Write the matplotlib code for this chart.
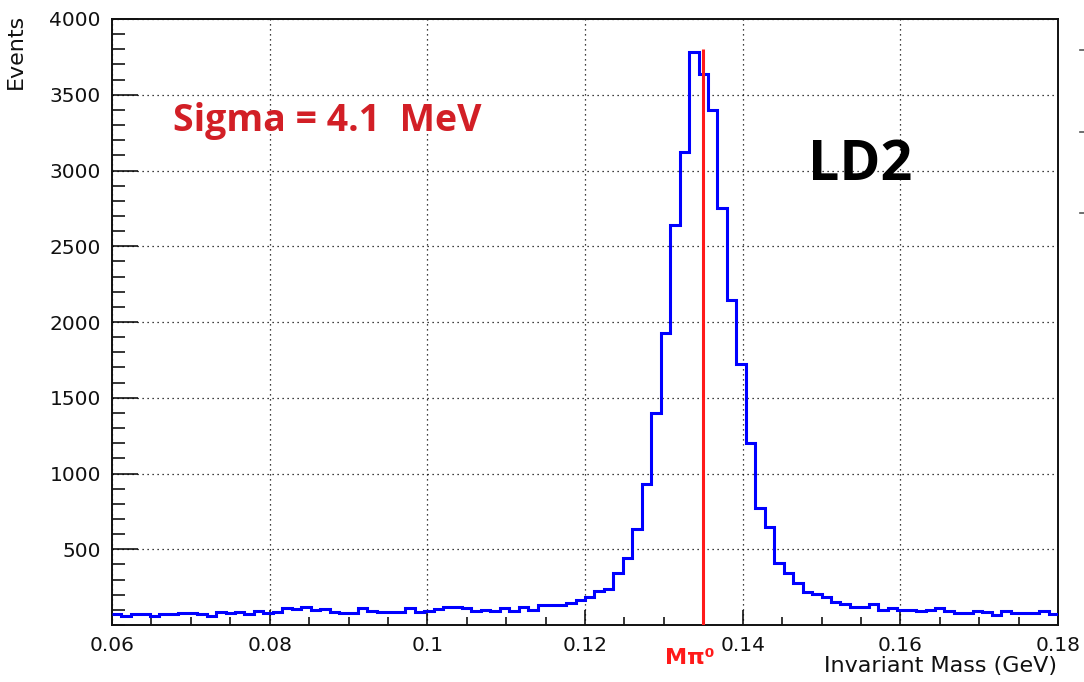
import numpy as np
import matplotlib
matplotlib.use("Agg")
import matplotlib.pyplot as plt
from matplotlib.ticker import MultipleLocator
from matplotlib.lines import Line2D

# ---- data ----
x_min, x_max, n_bins = 0.06, 0.18, 100
counts = [
    70, 62, 73, 73, 62, 73, 73, 77, 81, 73,
    62, 88, 77, 88, 73, 95, 81, 84, 110, 103,
    119, 99, 106, 88, 77, 77, 110, 95, 84, 84,
    84, 110, 88, 95, 103, 121, 121, 110, 92, 99,
    92, 110, 95, 121, 99, 132, 132, 132, 143, 165,
    187, 225, 236, 345, 440, 632, 930, 1400, 1928, 2638,
    3120, 3785, 3640, 3398, 2750, 2146, 1720, 1204, 771, 646,
    412, 346, 280, 220, 203, 187, 154, 139, 121, 121,
    137, 99, 114, 99, 99, 92, 99, 114, 92, 77,
    77, 92, 86, 68, 90, 77, 77, 77, 92, 72,
]
pi0_mass = 0.135
pi0_line_top = 3800
x_ticks = [0.06, 0.08, 0.1, 0.12, 0.14, 0.16, 0.18]
x_tick_labels = ["0.06", "0.08", "0.1", "0.12", "0.14", "0.16", "0.18"]
y_ticks = [500, 1000, 1500, 2000, 2500, 3000, 3500, 4000]
y_tick_labels = ["500", "1000", "1500", "2000", "2500", "3000", "3500", "4000"]
sigma_text = "Sigma = 4.1  MeV"
target_text = "LD2"
x_label = "Invariant Mass (GeV)"
y_label = "Events"

edges = np.linspace(x_min, x_max, n_bins + 1)

W, H = 1084, 682
fig = plt.figure(figsize=(W / 100, H / 100), dpi=100)
L, R, T, B = 112, 1058, 19, 625
ax = fig.add_axes([L / W, 1 - B / H, (R - L) / W, (B - T) / H])

ax.stairs(counts, edges, baseline=None, color="#0000ff", lw=2.2, zorder=3)
ax.vlines(pi0_mass, 0, pi0_line_top, color="#ff1a1a", lw=2.2, zorder=4)

ax.set_xlim(x_min, x_max)
ax.set_ylim(0, 4000)
ax.set_xticks(x_ticks)
ax.set_xticklabels(x_tick_labels)
ax.set_yticks(y_ticks)
ax.set_yticklabels(y_tick_labels)
ax.xaxis.set_minor_locator(MultipleLocator(0.005))
ax.yaxis.set_minor_locator(MultipleLocator(100))

for lab in ax.get_xticklabels() + ax.get_yticklabels():
    lab.set_fontfamily("DejaVu Sans")
    lab.set_fontsize(14.5)
    lab.set_color("#111111")

ax.tick_params(axis="x", which="major", direction="in", length=11, width=1.1, pad=8)
ax.tick_params(axis="x", which="minor", direction="in", length=6, width=1.1)
ax.tick_params(axis="y", which="major", direction="in", length=19, width=1.1, pad=8)
ax.tick_params(axis="y", which="minor", direction="in", length=9.5, width=1.1)
ax.tick_params(top=False, right=False, which="both")

ax.grid(True, which="major", color="black", linestyle=(0, (1, 3)), lw=0.9, zorder=1)
for s in ax.spines.values():
    s.set_linewidth(1.4)
    s.set_color("#111111")

# axis labels (ROOT style)
fig.text(16 / W, 1 - 14 / H, y_label, rotation=90, ha="center", va="top",
         family="DejaVu Sans", fontsize=16, color="#111111")
fig.text(1057 / W, 1 - 666 / H, x_label, ha="right", va="center",
         family="DejaVu Sans", fontsize=16, color="#111111")

# annotations
fig.text(173 / W, 1 - 131.5 / H, sigma_text, ha="left", va="baseline",
         family="Open Sans", fontweight="bold", fontsize=27, color="#d21f26")
fig.text(808 / W, 1 - 180 / H, target_text, ha="left", va="baseline",
         family="Open Sans", fontweight="bold", fontsize=40, color="black")
fig.text(665 / W, 1 - 664 / H, "M\u03c0\u2070", ha="left", va="baseline",
         family="DejaVu Sans", fontweight="bold", fontsize=16, color="#ff1a1a")

# small stray marks at the right edge of the reference image
for yy in (50, 132, 213):
    fig.add_artist(Line2D([1080 / W, 1084 / W], [1 - yy / H, 1 - yy / H],
                          color="#555555", lw=1.2))

fig.savefig("out.png", dpi=100)
